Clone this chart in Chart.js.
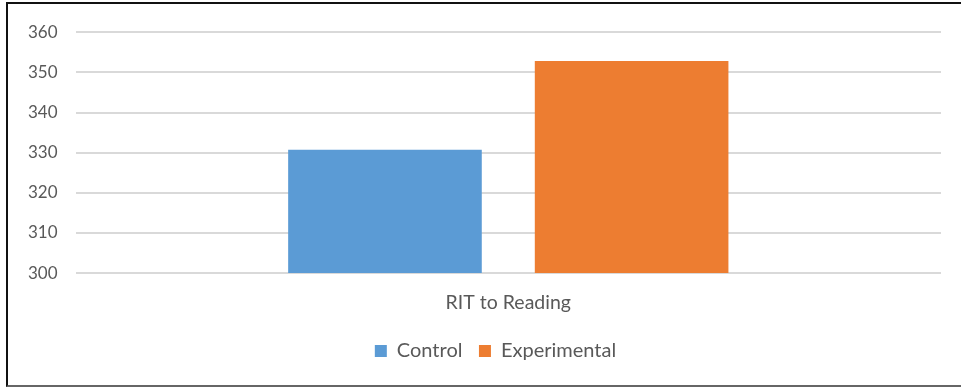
<!DOCTYPE html>
<html>
<head>
<meta charset="utf-8">
<script src="https://cdn.jsdelivr.net/npm/chart.js@4"></script>
<style>
  html, body { margin: 0; padding: 0; background: #fff; }
  #wrap {
    position: absolute; left: 6px; top: 2px; width: 955px; height: 381px;
    border-left: 2px solid #111; border-top: 2px solid #111; border-bottom: 2px solid #666;
  }
</style>
</head>
<body>
<div id="wrap"><canvas id="grafico"></canvas></div>
<script>
// datos
const categorias = ["RIT to Reading"];
const control = [330.7];
const experimental = [352.8];
const yMin = 300, yMax = 360, yPaso = 10;

// la leyenda del original no queda centrada en el lienzo, la corro un poco
const moverLeyenda = {
  id: "moverLeyenda",
  afterLayout(chart) {
    chart.legend.left += 20;
    chart.legend.right += 20;
  },
};

const ctx = document.getElementById("grafico").getContext("2d");

const grafico = new Chart(ctx, {
  type: "bar",
  data: {
    labels: categorias,
    datasets: [
      {
        label: "Control",
        data: control,
        backgroundColor: "#5B9BD5",
        categoryPercentage: 0.57,
        barPercentage: 0.785,
      },
      {
        label: "Experimental",
        data: experimental,
        backgroundColor: "#ED7D31",
        categoryPercentage: 0.57,
        barPercentage: 0.785,
      },
    ],
  },
  options: {
    responsive: true,
    maintainAspectRatio: false,
    animation: false,
    layout: { padding: { top: 20, right: 22, left: 2, bottom: 14 } },
    plugins: {
      tooltip: { enabled: false },
      legend: {
        position: "bottom",
        labels: {
          boxWidth: 12,
          boxHeight: 12,
          padding: 16.5,
          color: "#595959",
          font: { family: "Lato", size: 20 },
        },
      },
    },
    scales: {
      x: {
        grid: { display: false },
        border: { display: false },
        ticks: { color: "#595959", padding: 10, font: { family: "Lato", size: 19.5 } },
      },
      y: {
        min: yMin,
        max: yMax,
        ticks: { stepSize: yPaso, color: "#595959", padding: 18, font: { family: "Lato", size: 17 } },
        grid: { color: "#d9d9d9", lineWidth: 2, drawTicks: false },
        border: { display: false },
      },
    },
  },
  plugins: [moverLeyenda],
});
</script>
</body>
</html>
